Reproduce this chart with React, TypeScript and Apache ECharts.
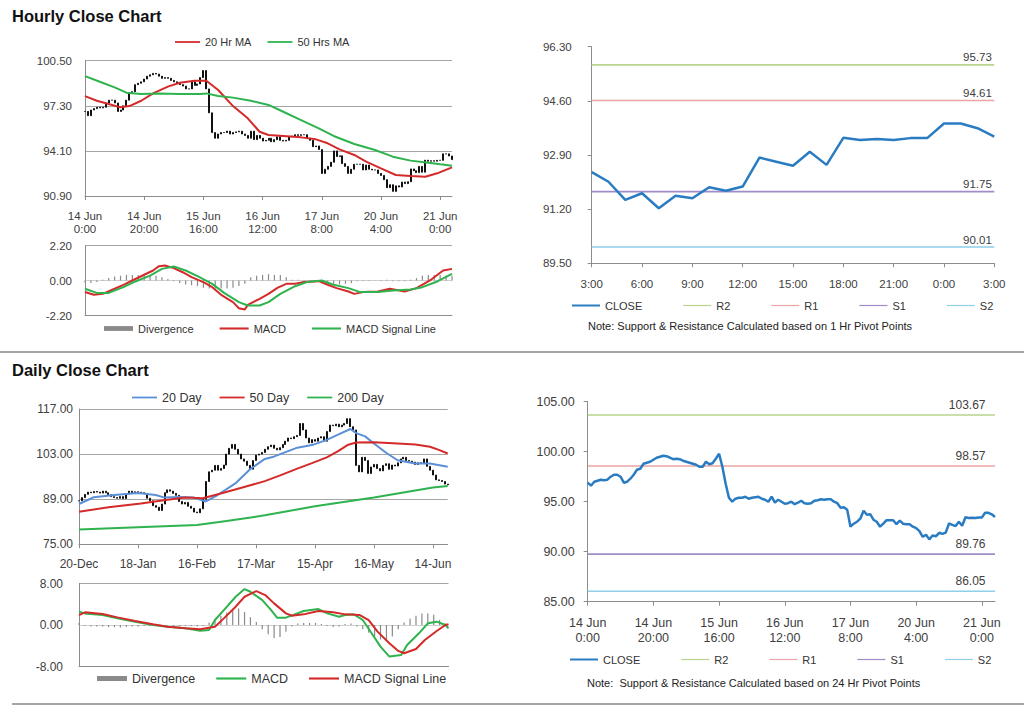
import React, { useEffect, useRef } from 'react';
import * as echarts from 'echarts';

// ---------------- Hourly data (one value per trading hour, 14 Jun 0:00 → 21 Jun 4:00) ----------------
const hourlyClose: number[] = [
  96.9, 96.6, 97.0, 97.1, 97.2, 97.15, 97.2, 97.5, 97.7, 97.7,
  97.5, 96.9, 97.0, 97.3, 97.7, 98.2, 98.3, 98.8, 98.9, 99.0,
  99.2, 99.4, 99.5, 99.6, 99.55, 99.4, 99.25, 99.3, 99.25, 99.1,
  99.0, 98.9, 98.8, 98.7, 98.5, 98.5, 99.0, 98.75, 98.85, 99.3,
  99.8, 98.5, 96.8, 95.4, 95.0, 95.3, 95.4, 95.4, 95.5, 95.3,
  95.4, 95.45, 95.5, 95.3, 95.2, 95.0, 95.5, 94.9, 95.2, 95.0,
  94.8, 94.85, 95.0, 94.75, 94.9, 95.1, 94.85, 94.8, 94.85, 95.1,
  95.15, 95.25, 95.2, 95.25, 95.25, 95.0,
  94.85, 94.4, 94.45, 94.2, 92.5, 92.8, 93.0, 93.3, 94.1, 93.7,
  93.75, 93.2, 93.0, 92.5, 92.8, 93.15, 93.15, 93.15, 92.75, 93.1,
  92.8, 92.75, 92.75, 92.5,
  92.36, 92.06, 91.49, 91.7, 91.23, 91.62, 91.54, 91.89, 91.78, 91.91,
  92.82, 92.69, 92.56, 93.0, 92.59, 93.44, 93.37, 93.4, 93.37, 93.43,
  93.43, 93.89, 93.89, 93.74, 93.48,
];
const hourlyTickIdx = [0, 20, 40, 60, 80, 100, 120];
const hourlyTickLabels = ['14 Jun\n0:00', '14 Jun\n20:00', '15 Jun\n16:00', '16 Jun\n12:00', '17 Jun\n8:00', '20 Jun\n4:00', '21 Jun\n0:00'];
const hourlyPriceTicks = [90.9, 94.1, 97.3, 100.5];

// [hour index, value]
const hourlyMa20: number[][] = [
  [0, 97.99], [4, 97.66], [8, 97.43], [12, 97.19], [15, 97.28], [19, 97.66], [23, 98.18], [28, 98.66],
  [32, 98.94], [37, 99.08], [41, 99.08], [45, 98.42], [50, 97.28], [55, 96.41], [59, 95.46], [62, 95.23],
  [67, 95.16], [73, 95.06], [78, 94.92], [82, 94.64], [86, 94.21], [91, 93.81], [95, 93.34], [100, 92.86],
  [105, 92.39], [110, 92.32], [115, 92.27], [119, 92.51], [124, 92.93],
];
const hourlyMa50: number[][] = [
  [0, 99.41], [5, 99.01], [10, 98.61], [14, 98.23], [19, 98.14], [25, 98.18], [32, 98.14], [39, 98.14],
  [41, 98.18], [45, 97.99], [50, 97.88], [56, 97.66], [62, 97.36], [67, 96.88], [73, 96.29], [79, 95.7],
  [84, 95.16], [91, 94.59], [98, 94.16], [104, 93.69], [110, 93.41], [116, 93.26], [120, 93.15], [124, 93.05],
];
const hourlyMacdTicks = [-2.2, 0, 2.2];
const hourlyMacd: number[][] = [
  [0, -0.72], [3, -0.9], [6, -0.84], [10, -0.52], [13, -0.27], [16, 0], [20, 0.36], [23, 0.63], [25, 0.9],
  [27, 0.94], [30, 0.78], [33, 0.52], [36, 0.21], [40, -0.1], [43, -0.42], [46, -0.9], [50, -1.36],
  [52, -1.74], [54, -1.82], [55, -1.53], [59, -1.15], [62, -0.84], [65, -0.46], [68, -0.21], [71, -0.21],
  [74, -0.1], [79, -0.04], [82, -0.27], [85, -0.48], [89, -0.69], [91, -0.84], [94, -0.73], [99, -0.69],
  [103, -0.52], [108, -0.69], [112, -0.48], [117, 0.06], [121, 0.63], [124, 0.73],
];
const hourlySignal: number[][] = [
  [0, -0.52], [4, -0.78], [8, -0.78], [13, -0.42], [17, -0.06], [22, 0.31], [26, 0.73], [30, 0.88],
  [34, 0.63], [38, 0.27], [43, -0.21], [47, -0.78], [52, -1.36], [55, -1.57], [59, -1.57], [62, -1.36],
  [66, -0.84], [71, -0.36], [75, -0.1], [80, 0], [84, -0.27], [89, -0.48], [93, -0.73], [99, -0.73],
  [104, -0.63], [110, -0.57], [114, -0.42], [119, -0.06], [124, 0.42],
];
// one reading every 2 hours
const HOURLY_DIV_STEP = 2;
const hourlyDivergence = [
  -0.12, -0.15, -0.1, 0.05, 0.15, 0.25, 0.3, 0.35, 0.35, 0.35,
  0.3, 0.35, 0.3, 0.2, 0.1, -0.05, -0.15, -0.25, -0.3, -0.35,
  -0.45, -0.5, -0.5, -0.5, -0.5, -0.45, -0.35, -0.2, 0.2, 0.3,
  0.35, 0.4, 0.35, 0.35, 0.2, 0.05, 0.05, 0.03, 0.03, -0.05,
  -0.1, -0.2, -0.2, -0.25, -0.2, -0.15, -0.05, 0.03, 0.03, 0.02,
  0.03, 0.05, -0.05, -0.05, -0.05, 0.05, 0.15, 0.3, 0.35, 0.35,
  0.35, 0.3, 0.3,
];

// ---------------- Last 25 hours with 1 Hr pivots ----------------
const lastHoursLabels = [
  '3:00', '4:00', '5:00', '6:00', '7:00', '8:00', '9:00', '10:00', '11:00', '12:00', '13:00', '14:00',
  '15:00', '16:00', '17:00', '18:00', '19:00', '20:00', '21:00', '22:00', '23:00', '0:00', '1:00', '2:00', '3:00',
];
const lastHoursClose = hourlyClose.slice(hourlyClose.length - lastHoursLabels.length);
const lastHoursTicks = [89.5, 91.2, 92.9, 94.6, 96.3];
const pivotNames = ['R2', 'R1', 'S1', 'S2'];
const pivot1Hr = [95.73, 94.61, 91.75, 90.01];
const pivot24Hr = [103.67, 98.57, 89.76, 86.05];
const hourly24Ticks = [85, 90, 95, 100, 105];

// ---------------- Daily data (20-Dec → 21-Jun, trading days) ----------------
const dailyClose: number[] = [
  88.5, 89.5, 90.5, 91.2, 91.0, 91.4, 91.2, 90.9, 91.5, 91.0,
  90.4, 89.8, 89.5, 89.3, 89.8, 89.2, 90.6, 91.5, 91.0, 91.3,
  91.2, 91.0, 90.8, 89.3, 88.5, 87.0, 86.5, 85.5, 87.5, 91.0,
  91.9, 91.5, 90.8, 90.2, 88.3, 87.5, 88.0, 86.8, 86.2, 85.0,
  84.8, 86.0, 89.0, 94.5, 97.5, 98.0, 99.5, 98.0, 98.5, 99.6,
  103.0, 104.8, 106.0, 104.5, 103.0, 101.5, 100.8, 99.5, 98.3, 101.0,
  102.7, 103.0, 103.5, 104.5, 105.3, 105.8, 104.8, 104.3, 105.0, 106.0,
  107.0, 108.0, 107.8, 108.4, 108.8, 112.5, 110.5, 108.0, 106.5, 107.5,
  107.0, 108.0, 108.4, 107.0, 110.0, 112.0, 111.8, 112.3, 111.5, 112.0,
  112.5, 114.0, 111.5, 110.5, 99.5, 97.5, 102.0, 101.0, 97.0, 99.0,
  99.8, 98.5, 97.8, 99.5, 100.0, 98.3, 99.6, 99.3, 100.3, 101.5,
  102.0, 101.0, 100.8, 100.5, 99.8, 100.3, 100.1, 101.5, 99.2, 98.0,
  96.5, 95.0, 94.8, 94.5, 93.7, 93.5,
];
const dailyTickIdx = [0, 20, 40, 60, 80, 100, 120];
const dailyTickLabels = ['20-Dec', '18-Jan', '16-Feb', '17-Mar', '15-Apr', '16-May', '14-Jun'];
const dailyPriceTicks = [75, 89, 103, 117];
const dailyMa20: number[][] = [
  [0, 87.5], [5, 89.6], [12, 90.3], [20, 90.9], [26, 90.3], [29, 89.5], [34, 89.7], [39, 89.5], [43, 88.3],
  [47, 90.3], [53, 93.9], [58, 98.3], [63, 101.5], [66, 102.2], [70, 103.6], [74, 105.0], [79, 105.8],
  [84, 107.4], [88, 109.1], [92, 110.8], [94, 109.5], [97, 108.5], [100, 106.3], [104, 103.5], [108, 101.1],
  [114, 100.1], [119, 100.1], [125, 99.1],
];
const dailyMa50: number[][] = [
  [0, 85.1], [10, 86.5], [21, 87.7], [30, 88.8], [36, 89.5], [42, 89.3], [49, 91.0], [56, 92.8], [63, 94.6],
  [68, 96.3], [74, 98.5], [79, 100.2], [84, 102.0], [88, 104.0], [91, 105.8], [94, 106.6], [100, 106.7],
  [108, 106.3], [114, 106.0], [119, 105.3], [122, 104.3], [125, 103.2],
];
const dailyMa200: number[][] = [
  [0, 79.6], [20, 80.3], [40, 81.0], [50, 82.2], [63, 84.0], [80, 86.8], [100, 89.5], [120, 92.6], [125, 93.1],
];
const dailyMacdTicks = [-8, 0, 8];
const dailyMacd: number[][] = [
  [0, 2.56], [2, 2.24], [8, 1.92], [13, 1.28], [19, 0.64], [25, 0], [30, -0.32], [36, -0.64], [41, -1.09],
  [44, -0.96], [46, 0.96], [49, 2.88], [53, 5.45], [56, 6.92], [58, 6.41], [62, 4.8], [65, 2.88], [67, 1.41],
  [70, 1.41], [73, 2.05], [76, 2.69], [81, 3.08], [84, 2.24], [88, 1.6], [90, 1.92], [93, 2.05], [96, 0.96],
  [99, -1.6], [102, -4.17], [105, -6.09], [109, -5.77], [111, -3.85], [115, -1.6], [118, 0.32], [121, 0.64],
  [124, 0], [125, -0.64],
];
const dailySignal: number[][] = [
  [0, 1.92], [2, 2.44], [8, 2.12], [13, 1.47], [19, 0.77], [25, 0.13], [30, -0.32], [36, -0.64], [41, -0.83],
  [46, -0.32], [49, 1.28], [53, 3.53], [56, 5.45], [60, 6.54], [63, 5.77], [66, 4.17], [70, 2.24], [72, 1.79],
  [76, 2.05], [81, 2.69], [86, 2.44], [90, 2.05], [95, 1.92], [98, 0.96], [101, -1.28], [105, -3.53],
  [108, -5.0], [110, -5.45], [114, -4.62], [117, -2.88], [121, -1.15], [124, 0], [125, 0.13],
];
// one reading every 2 days
const DAILY_DIV_STEP = 2;
const dailyDivergence = [
  0.4, -0.2, -0.3, -0.3, -0.3, -0.4, -0.4, -0.5, -0.4, -0.3,
  -0.3, -0.2, -0.2, -0.2, -0.2, -0.1, -0.2, -0.2, -0.2, -0.2,
  -0.3, -0.2, 0.5, 1.2, 1.8, 2.4, 2.8, 3.2, 2.5, 1.5,
  0.6, -0.8, -1.8, -2.5, -2.3, -1.3, -0.3, 0.3, 0.4, 0.4,
  0.4, 0.2, -0.2, -0.4, -0.3, 0.2, 0.3, -0.3, -0.8, -1.5,
  -2.2, -2.8, -2.8, -2.2, -0.8, 0.5, 1.2, 1.8, 2.2, 2.2,
  2.0, 1.0, 0.3,
];

// ---------------- styles ----------------
const FONT = '"Liberation Sans", Arial, Helvetica, sans-serif';
const AXIS_GRAY = '#8c8c8c';
const GRID_GRAY = '#a6a6a6';
const ZERO_GRAY = '#d0d0d0';
const LABEL = '#404040';
const RED = '#d42a2a';
const GREEN = '#2eb34e';
const BLUE_CLOSE = '#2a7cc2';
const BLUE_MA = '#5b8fd6';
const DIV_GRAY = '#8a8a8a';
const PIVOT_COLORS = ['#b7d58e', '#eba5a5', '#a08cc8', '#8fd0e8'];
const DIV_ICON = 'path://M0,0H30V5H0Z';
const LINE_ICON = 'path://M0,0H28V2H0Z';
const THIN_ICON = 'path://M0,0H28V1.2H0Z';

const toCandles = (closes: number[]) =>
  closes.map((c, i) => {
    const o = i === 0 ? c : closes[i - 1];
    return [i, o, c, Math.min(o, c), Math.max(o, c)];
  });

const idxAxis = (gridIndex: number, max: number, ticks: number[] | null, labels: string[] | null, fontSize: number, margin: number, lineHeight: number) => ({
  type: 'value',
  gridIndex,
  min: 0,
  max,
  axisLine: { show: true, onZero: false, lineStyle: { color: AXIS_GRAY } },
  axisTick: ticks ? { show: true, customValues: ticks, length: 4, lineStyle: { color: AXIS_GRAY } } : { show: false },
  axisLabel: ticks
    ? {
        show: true,
        customValues: ticks,
        formatter: (v: number) => (labels as string[])[ticks.indexOf(v)] ?? '',
        fontSize,
        color: LABEL,
        margin,
        lineHeight,
        fontFamily: FONT,
      }
    : { show: false },
  splitLine: { show: false },
});

const valAxis = (gridIndex: number, min: number, max: number, ticks: number[], fontSize: number, margin: number, split: boolean | string[], tickShow = false) => ({
  type: 'value',
  gridIndex,
  min,
  max,
  axisLine: { show: true, onZero: false, lineStyle: { color: AXIS_GRAY } },
  axisTick: { show: tickShow, customValues: ticks, length: 4, lineStyle: { color: AXIS_GRAY } },
  axisLabel: {
    customValues: ticks,
    formatter: (v: number) => v.toFixed(2),
    fontSize,
    color: LABEL,
    margin,
    fontFamily: FONT,
  },
  splitLine: split
    ? { show: true, lineStyle: { color: Array.isArray(split) ? split : GRID_GRAY, width: 1 } }
    : { show: false },
});

const lineSeries = (name: string, axis: number, data: any[], color: string, width: number, extra: any = {}) => ({
  type: 'line',
  name,
  xAxisIndex: axis,
  yAxisIndex: axis,
  data,
  symbol: 'none',
  lineStyle: { color, width },
  itemStyle: { color },
  z: 3,
  ...extra,
});

const candleSeries = (name: string, axis: number, closes: number[]) => ({
  type: 'candlestick',
  name,
  xAxisIndex: axis,
  yAxisIndex: axis,
  data: toCandles(closes),
  encode: { x: 0, y: [1, 2, 3, 4] },
  barWidth: 1.5,
  itemStyle: { color: '#111', color0: '#111', borderColor: '#111', borderColor0: '#111', borderWidth: 1 },
  z: 2,
});

const pivotSeries = (suffix: string, axis: number, xs: any[], lastX: number, values: number[], labelOffset: number[], fontSize: number) =>
  pivotNames.map((n, k) =>
    lineSeries(n + suffix, axis, xs.map((x) => (x === null ? values[k] : [x, values[k]])), PIVOT_COLORS[k], 1.6, {
      z: 2,
      markPoint: {
        symbol: 'circle',
        symbolSize: 1,
        silent: true,
        itemStyle: { color: 'rgba(0,0,0,0)' },
        label: {
          show: true,
          position: labelOffset,
          align: 'right',
          verticalAlign: 'bottom',
          color: LABEL,
          fontSize,
          fontFamily: FONT,
          formatter: (p: any) => Number(p.value).toFixed(2),
        },
        data: [{ coord: [lastX, values[k]], value: values[k] }],
      },
    })
  );

const legendBase = (left: number, top: number, itemWidth: number, itemGap: number, fontSize: number, data: any[]) => ({
  left,
  top,
  padding: 0,
  itemWidth,
  itemHeight: 10,
  itemGap,
  icon: LINE_ICON,
  data,
  selectedMode: false,
  formatter: (name: string) => name.split('|')[0],
  textStyle: { fontSize, color: '#333', fontFamily: FONT },
});

const pivotLegend = (suffix: string) => [
  { name: 'CLOSE' + suffix, icon: LINE_ICON },
  ...pivotNames.map((n) => ({ name: n + suffix, icon: THIN_ICON })),
];

function buildOption(): any {
  const hourIdx = hourlyClose.map((_, i) => i);
  const hourMax = hourlyClose.length - 1;
  const dayMax = dailyClose.length - 1;
  return {
    animation: false,
    backgroundColor: '#fff',
    textStyle: { fontFamily: FONT },
    grid: [
      { left: 85, top: 60.7, width: 367, height: 135.3, containLabel: false, outerBoundsMode: 'none' },
      { left: 85, top: 245.5, width: 367, height: 70, containLabel: false, outerBoundsMode: 'none' },
      { left: 591.7, top: 46.7, width: 402.6, height: 216.6, containLabel: false, outerBoundsMode: 'none' },
      { left: 79, top: 409, width: 368.7, height: 135.3, containLabel: false, outerBoundsMode: 'none' },
      { left: 79, top: 583.5, width: 369.5, height: 83, containLabel: false, outerBoundsMode: 'none' },
      { left: 587.7, top: 401.7, width: 407.3, height: 200, containLabel: false, outerBoundsMode: 'none' },
    ],
    xAxis: [
      idxAxis(0, hourMax, hourlyTickIdx, hourlyTickLabels, 11.5, 13, 13.5),
      idxAxis(1, hourMax, null, null, 11, 8, 13),
      {
        type: 'category',
        gridIndex: 2,
        data: lastHoursLabels,
        boundaryGap: false,
        axisLine: { show: true, lineStyle: { color: AXIS_GRAY } },
        axisTick: { show: true, interval: 2, length: 4, lineStyle: { color: AXIS_GRAY } },
        axisLabel: { interval: 2, fontSize: 11.5, color: LABEL, margin: 15, fontFamily: FONT },
        splitLine: { show: false },
      },
      idxAxis(3, dayMax, dailyTickIdx, dailyTickLabels, 12, 13, 14),
      idxAxis(4, dayMax, null, null, 11, 8, 13),
      idxAxis(5, hourMax, hourlyTickIdx, hourlyTickLabels, 12.5, 14, 15),
    ],
    yAxis: [
      valAxis(0, 90.9, 100.5, hourlyPriceTicks, 11.5, 13, true),
      valAxis(1, -2.2, 2.2, hourlyMacdTicks, 11.5, 13, [GRID_GRAY, ZERO_GRAY, GRID_GRAY]),
      valAxis(2, 89.5, 96.3, lastHoursTicks, 11.5, 20, false, true),
      valAxis(3, 75, 117, dailyPriceTicks, 12, 6, true),
      valAxis(4, -8, 8, dailyMacdTicks, 12, 16, [GRID_GRAY, ZERO_GRAY, GRID_GRAY]),
      valAxis(5, 85, 105, hourly24Ticks, 12.5, 13, false, true),
    ],
    legend: [
      legendBase(175, 36.5, 25, 16, 11, ['20 Hr MA', '50 Hrs MA']),
      legendBase(104, 323, 29, 26, 11, [
        { name: 'Divergence|h', icon: DIV_ICON },
        'MACD|h',
        'MACD Signal Line|h',
      ]),
      legendBase(572, 300, 28, 41, 11, pivotLegend('|t')),
      legendBase(132, 391, 25, 18, 12.5, ['20 Day', '50 Day', '200 Day']),
      legendBase(97, 672, 30, 21, 12.5, [
        { name: 'Divergence|d', icon: DIV_ICON },
        'MACD|d',
        'MACD Signal Line|d',
      ]),
      legendBase(570, 654, 28, 41, 11, pivotLegend('|b')),
    ],
    graphic: [
      { type: 'text', left: 12, top: 7, style: { text: 'Hourly Close Chart', fontSize: 16.5, fontWeight: 'bold', fontFamily: FONT, fill: '#111' } },
      { type: 'text', left: 12, top: 361, style: { text: 'Daily Close Chart', fontSize: 16.5, fontWeight: 'bold', fontFamily: FONT, fill: '#111' } },
      { type: 'line', shape: { x1: 0, y1: 352, x2: 1024, y2: 352 }, style: { stroke: '#a6a6a6', lineWidth: 2 } },
      { type: 'line', shape: { x1: 12, y1: 704, x2: 1024, y2: 704 }, style: { stroke: '#a6a6a6', lineWidth: 2 } },
      {
        type: 'text', left: 588, top: 320,
        style: { text: 'Note: Support & Resistance Calculated based on 1 Hr Pivot Points', fontSize: 11, fontFamily: FONT, fill: '#222' },
      },
      {
        type: 'text', left: 587, top: 677,
        style: { text: 'Note:  Support & Resistance Calculated based on 24 Hr Pivot Points', fontSize: 11, fontFamily: FONT, fill: '#222' },
      },
    ],
    series: [
      // hourly price
      candleSeries('Hourly Bars', 0, hourlyClose),
      lineSeries('20 Hr MA', 0, hourlyMa20, RED, 2),
      lineSeries('50 Hrs MA', 0, hourlyMa50, GREEN, 2),
      // hourly MACD
      {
        type: 'bar', name: 'Divergence|h', xAxisIndex: 1, yAxisIndex: 1,
        data: hourlyDivergence.map((v, i) => [i * HOURLY_DIV_STEP, v]),
        barWidth: 1.2, itemStyle: { color: DIV_GRAY }, z: 2,
      },
      lineSeries('MACD|h', 1, hourlyMacd, RED, 2),
      lineSeries('MACD Signal Line|h', 1, hourlySignal, GREEN, 2),
      // last hours with 1 Hr pivots
      ...pivotSeries('|t', 2, lastHoursLabels.map(() => null), lastHoursLabels.length - 1, pivot1Hr, [-2, -1], 11.5),
      lineSeries('CLOSE|t', 2, lastHoursClose, BLUE_CLOSE, 2.5, { z: 4 }),
      // daily price
      candleSeries('Daily Bars', 3, dailyClose),
      lineSeries('20 Day', 3, dailyMa20, BLUE_MA, 2),
      lineSeries('50 Day', 3, dailyMa50, RED, 2),
      lineSeries('200 Day', 3, dailyMa200, GREEN, 2),
      // daily MACD
      {
        type: 'bar', name: 'Divergence|d', xAxisIndex: 4, yAxisIndex: 4,
        data: dailyDivergence.map((v, i) => [i * DAILY_DIV_STEP, v]),
        barWidth: 1.2, itemStyle: { color: DIV_GRAY }, z: 2,
      },
      lineSeries('MACD|d', 4, dailyMacd, GREEN, 2),
      lineSeries('MACD Signal Line|d', 4, dailySignal, RED, 2),
      // hourly close with 24 Hr pivots
      ...pivotSeries('|b', 5, hourIdx, hourMax, pivot24Hr, [-9, -4], 12),
      lineSeries('CLOSE|b', 5, hourlyClose.map((v, i) => [i, v]), BLUE_CLOSE, 2.5, { z: 4 }),
    ],
  };
}

export default function App() {
  const ref = useRef<HTMLDivElement>(null);
  useEffect(() => {
    if (!ref.current) return;
    const chart = echarts.init(ref.current, undefined, { renderer: 'svg' });
    chart.setOption(buildOption());
    return () => chart.dispose();
  }, []);
  return (
    <div
      ref={ref}
      style={{ position: 'absolute', left: 0, top: 0, width: 1024, height: 706, background: '#fff' }}
    />
  );
}
